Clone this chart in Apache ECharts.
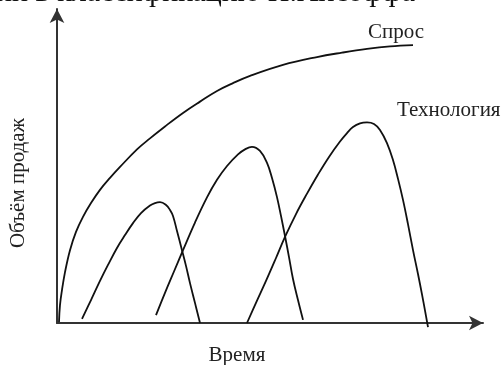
<!DOCTYPE html>
<html>
<head>
<meta charset="utf-8">
<script src="https://cdn.jsdelivr.net/npm/echarts@6/dist/echarts.min.js"></script>
<style>
  html, body { margin: 0; padding: 0; background: #fff; }
  #chart { width: 504px; height: 365px; }
</style>
</head>
<body>
<div id="chart"></div>
<script>
// Время (условные единицы) и объём продаж
const demand = [
  [0.47, 0.3], [0.70, 5.7], [1.17, 10.5], [1.88, 16.2], [3.05, 23.2],
  [4.46, 29.0], [6.10, 33.8], [7.98, 38.2], [10.09, 42.4], [12.44, 46.2],
  [14.79, 49.7], [18.78, 55.3], [21.83, 58.8], [25.35, 62.6], [29.58, 66.9],
  [33.57, 70.5], [37.56, 73.9], [41.31, 76.4], [45.31, 78.7], [53.05, 82.2],
  [61.03, 84.7], [66.90, 86.1], [72.77, 87.3], [78.17, 88.1], [83.57, 88.5]
];
const tech1 = [
  [5.87, 1.3], [7.98, 7.3], [10.09, 13.4], [11.97, 18.5], [14.08, 23.9],
  [15.96, 28.0], [17.84, 31.8], [19.72, 35.0], [21.83, 37.4], [23.00, 38.2],
  [24.18, 38.5], [25.59, 37.6], [26.53, 36.0], [27.23, 34.1], [28.17, 29.3],
  [29.34, 23.2], [30.28, 18.2], [31.22, 12.7], [32.39, 6.4], [33.57, 0]
];
const tech2 = [
  [23.24, 2.5], [25.35, 9.6], [27.46, 16.4], [29.58, 23.2], [32.39, 32.0],
  [35.21, 40.0], [37.56, 45.6], [39.91, 50.0], [42.49, 53.7], [44.13, 55.3],
  [45.77, 56.1], [47.65, 54.8], [49.30, 51.0], [50.47, 46.2], [51.64, 40.1],
  [52.58, 34.1], [53.52, 27.7], [54.46, 21.0], [55.40, 14.0], [56.57, 7.3],
  [57.75, 1.0]
];
const tech3 = [
  [44.60, 0], [46.71, 6.4], [49.06, 13.4], [51.41, 20.7], [53.52, 27.4],
  [56.10, 34.7], [58.69, 41.2], [61.27, 47.3], [63.85, 52.9], [66.43, 57.8],
  [68.08, 60.5], [69.48, 62.4], [71.13, 63.6], [72.77, 63.9], [74.41, 63.4],
  [75.82, 61.5], [77.46, 57.3], [78.87, 51.9], [80.05, 45.9], [81.22, 39.2],
  [82.39, 31.5], [83.57, 23.2], [84.74, 15.6], [85.68, 9.1], [86.38, 4.0],
  [87.09, -1.3]
];

const serif = '"Liberation Serif", "DejaVu Serif", serif';

function curve(data) {
  return {
    type: 'line',
    data: data,
    smooth: 0.4,
    clip: false,
    showSymbol: false,
    silent: true,
    lineStyle: { color: '#111', width: 1.8 }
  };
}

const chart = echarts.init(document.getElementById('chart'));
chart.setOption({
  backgroundColor: '#fff',
  animation: false,
  grid: { left: 57, right: 21, top: 9, bottom: 42 },
  xAxis: {
    type: 'value', min: 0, max: 100,
    axisLine: {
      onZero: false,
      symbol: ['none', 'arrow'], symbolSize: [11, 14],
      lineStyle: { color: '#333', width: 2 }
    },
    axisTick: { show: false }, axisLabel: { show: false }, splitLine: { show: false }
  },
  yAxis: {
    type: 'value', min: 0, max: 100,
    axisLine: {
      show: true, onZero: false,
      symbol: ['none', 'arrow'], symbolSize: [11, 14],
      lineStyle: { color: '#333', width: 2 }
    },
    axisTick: { show: false }, axisLabel: { show: false }, splitLine: { show: false }
  },
  series: [curve(demand), curve(tech1), curve(tech2), curve(tech3)],
  graphic: [
    { type: 'text', left: -4, top: -22, silent: true,
      style: { text: 'ии в классификацию И.Ансоффа', font: '30px ' + serif, fill: '#111' } },
    { type: 'text', x: 396, y: 32, silent: true,
      style: { text: 'Спрос', font: '21px ' + serif, fill: '#222',
               textAlign: 'center', textVerticalAlign: 'middle' } },
    { type: 'text', x: 397, y: 110, silent: true,
      style: { text: 'Технология', font: '21px ' + serif, fill: '#222',
               textAlign: 'left', textVerticalAlign: 'middle' } },
    { type: 'text', x: 237, y: 355, silent: true,
      style: { text: 'Время', font: '21px ' + serif, fill: '#222',
               textAlign: 'center', textVerticalAlign: 'middle' } },
    { type: 'text', x: 18, y: 183, rotation: Math.PI / 2, silent: true,
      style: { text: 'Объём продаж', font: '21px ' + serif, fill: '#222',
               textAlign: 'center', textVerticalAlign: 'middle' } }
  ]
});
</script>
</body>
</html>
